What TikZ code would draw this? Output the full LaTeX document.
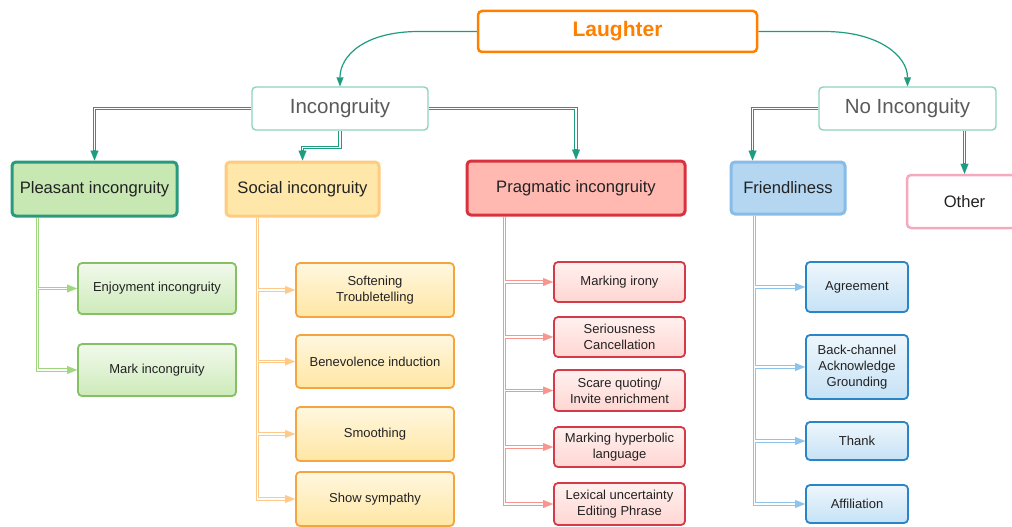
\documentclass[tikz,border=0pt]{standalone}
\usepackage{fontspec}
\setmainfont{Liberation Sans}
\usetikzlibrary{arrows.meta,backgrounds,calc}
\definecolor{teal1}{HTML}{1F9C80}
\definecolor{incB}{HTML}{8CD3C0}
\definecolor{incT}{HTML}{5A5A5A}
\definecolor{txt}{HTML}{222222}
\definecolor{orng}{HTML}{FF8000}
\definecolor{plB}{HTML}{2A9A7E}
\definecolor{plF}{HTML}{C7E8B3}
\definecolor{soB}{HTML}{FFCB80}
\definecolor{soF}{HTML}{FFE7A9}
\definecolor{prB}{HTML}{D8323F}
\definecolor{prF}{HTML}{FFB9B1}
\definecolor{frB}{HTML}{88BCE8}
\definecolor{frF}{HTML}{B4D6F1}
\definecolor{otB}{HTML}{F5A9BF}
\definecolor{gkB}{HTML}{86C064}
\definecolor{gkT}{HTML}{F1F9EC}
\definecolor{gkF}{HTML}{CDEBB9}
\definecolor{okB}{HTML}{F5A540}
\definecolor{okT}{HTML}{FFF7DF}
\definecolor{okF}{HTML}{FFE6A3}
\definecolor{rkB}{HTML}{D43B4A}
\definecolor{rkT}{HTML}{FFF1EF}
\definecolor{rkF}{HTML}{FFD6D2}
\definecolor{bkB}{HTML}{2A85C6}
\definecolor{bkT}{HTML}{EEF6FC}
\definecolor{bkF}{HTML}{C6E2F6}
\definecolor{gC}{HTML}{9FD77E}
\definecolor{oC}{HTML}{FFC98A}
\definecolor{rC}{HTML}{F7968F}
\definecolor{bC}{HTML}{8EC3EA}
\tikzset{
  box/.style={rounded corners=4pt, inner sep=2pt, align=center, text=txt},
  topbox/.style={box, draw=incB, line width=1.4pt, fill=white, text=incT,
    font=\fontsize{20.5}{24}\selectfont},
  lvl/.style={box, line width=3pt, font=\fontsize{16.6}{20}\selectfont},
  kid/.style={box, line width=1.8pt, font=\fontsize{13}{16}\selectfont},
  gkid/.style={kid, draw=gkB, top color=gkT, bottom color=gkF},
  okid/.style={kid, draw=okB, top color=okT, bottom color=okF},
  rkid/.style={kid, draw=rkB, top color=rkT, bottom color=rkF},
  bkid/.style={kid, draw=bkB, top color=bkT, bottom color=bkF},
  outer/.style={line width=3.4pt, draw=#1, -{Triangle[length=10pt,width=8pt,line width=0.01pt]}},
  inner/.style={line width=1.4pt, draw=white, shorten >=10.5pt},
  curve/.style={line width=1.2pt, draw=teal1, -{Triangle[length=9pt,width=7pt,line width=0.01pt]}}
}
\begin{document}
\begin{tikzpicture}[x=1pt,y=-1pt]
\useasboundingbox (0,0) rectangle (1012,527);
\clip (0,0) rectangle (1012,527);
% top
\node[box, draw=orng, line width=2.5pt, fill=white, text=orng,
  font=\fontsize{21}{24}\bfseries, minimum width=279, minimum height=41] (la) at (617.5,31.5) {Laughter};
\node[topbox, minimum width=176, minimum height=43] (inc) at (340,108.5) {Incongruity};
\node[topbox, minimum width=177, minimum height=43] (noi) at (907.5,108.5) {No Inconguity};
% level 2
\node[lvl, draw=plB, fill=plF, minimum width=165, minimum height=54] (pl) at (94.5,189) {Pleasant incongruity};
\node[lvl, draw=soB, fill=soF, minimum width=153, minimum height=54] (so) at (302.5,189) {Social incongruity};
\node[lvl, draw=prB, fill=prF, minimum width=218, minimum height=54] (pr) at (576,188) {Pragmatic incongruity};
\node[lvl, draw=frB, fill=frF, minimum width=114, minimum height=52] (fr) at (788,188) {Friendliness};
\node[lvl, draw=otB, line width=2.5pt, fill=white, minimum width=115, minimum height=53] (ot) at (964.5,201.5) {Other};
% green children
\node[gkid, minimum width=158, minimum height=51] (g1) at (157,288.5) {Enjoyment incongruity};
\node[gkid, minimum width=158, minimum height=52] (g2) at (157,370) {Mark incongruity};
% orange children
\node[okid, minimum width=158, minimum height=54] (o1) at (375,290) {Softening\\Troubletelling};
\node[okid, minimum width=158, minimum height=53] (o2) at (375,361.5) {Benevolence induction};
\node[okid, minimum width=158, minimum height=54] (o3) at (375,434) {Smoothing};
\node[okid, minimum width=158, minimum height=54] (o4) at (375,499) {Show sympathy};
% red children
\node[rkid, minimum width=131, minimum height=40] (r1) at (619.5,282) {Marking irony};
\node[rkid, minimum width=131, minimum height=40] (r2) at (619.5,337) {Seriousness\\Cancellation};
\node[rkid, minimum width=131, minimum height=41] (r3) at (619.5,390.5) {Scare quoting/\\Invite enrichment};
\node[rkid, minimum width=131, minimum height=40] (r4) at (619.5,447) {Marking hyperbolic\\language};
\node[rkid, minimum width=131, minimum height=42] (r5) at (619.5,504) {Lexical uncertainty\\Editing Phrase};
% blue children
\node[bkid, minimum width=102, minimum height=50] (b1) at (857,287) {Agreement};
\node[bkid, minimum width=102, minimum height=64] (b2) at (857,367) {Back-channel\\Acknowledge\\Grounding};
\node[bkid, minimum width=102, minimum height=38] (b3) at (857,441) {Thank};
\node[bkid, minimum width=102, minimum height=38] (b4) at (857,504) {Affiliation};
% trunk coordinates
\coordinate (plt) at ($(pl.south west)+(27,0)$);
\coordinate (sot) at ($(so.south west)+(33,0)$);
\coordinate (prt) at ($(pr.south west)+(39,0)$);
\coordinate (frt) at ($(fr.south west)+(25,0)$);
\coordinate (frn) at ($(fr.north west)+(23,0)$);
\begin{scope}[on background layer]
% curves from Laughter
\draw[curve] (la.west) -- ++(-58,0) .. controls +(-55,0) and +(0,-30) .. (inc.north);
\draw[curve] (la.east) -- ++(66,0) .. controls +(55,0) and +(0,-30) .. (noi.north);
% teal double connectors
\draw[outer=teal1] (inc.west) -| (pl.north);
\draw[outer=teal1] (inc.south) -- ++(0,17) -| (so.north);
\draw[outer=teal1] (inc.east) -| (pr.north);
\draw[outer=teal1] (noi.west) -| (frn);
\draw[outer=teal1] (noi.south -| ot.north) -- (ot.north);
\draw[inner] (inc.west) -| (pl.north);
\draw[inner] (inc.south) -- ++(0,17) -| (so.north);
\draw[inner] (inc.east) -| (pr.north);
\draw[inner] (noi.west) -| (frn);
\draw[inner] (noi.south -| ot.north) -- (ot.north);
% branches
\foreach \c in {g1,g2} \draw[outer=gC] (plt) |- (\c.west);
\foreach \c in {o1,o2,o3,o4} \draw[outer=oC] (sot) |- (\c.west);
\foreach \c in {r1,r2,r3,r4,r5} \draw[outer=rC] (prt) |- (\c.west);
\foreach \c in {b1,b2,b3,b4} \draw[outer=bC] (frt) |- (\c.west);
\foreach \c in {g1,g2} \draw[inner] (plt) |- (\c.west);
\foreach \c in {o1,o2,o3,o4} \draw[inner] (sot) |- (\c.west);
\foreach \c in {r1,r2,r3,r4,r5} \draw[inner] (prt) |- (\c.west);
\foreach \c in {b1,b2,b3,b4} \draw[inner] (frt) |- (\c.west);
\end{scope}
\end{tikzpicture}
\end{document}
